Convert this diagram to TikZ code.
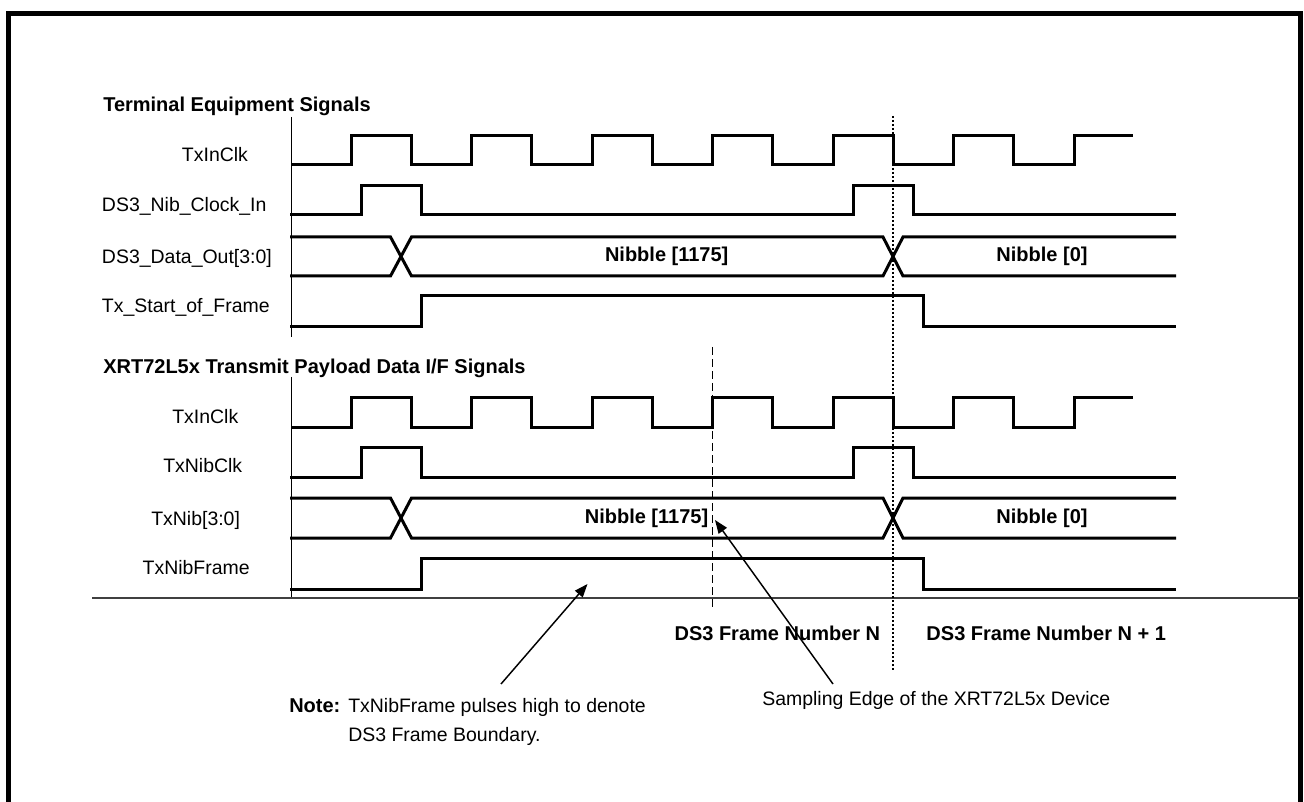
\documentclass[tikz,border=0pt]{standalone}
\usepackage{fontspec}
\setmainfont{Liberation Sans}
\usetikzlibrary{arrows.meta}
\begin{document}
\begin{tikzpicture}[x=0.75pt,y=-0.75pt,
  sig/.style={line width=2.25pt,line join=miter},
  axisline/.style={line width=1.1pt},
  lbl/.style={font=\fontsize{14.6}{17}\selectfont,anchor=base west,inner sep=0pt},
  hdg/.style={font=\fontsize{15}{18}\selectfont\bfseries,anchor=base west,inner sep=0pt},
  bold/.style={font=\fontsize{15}{18}\selectfont\bfseries,anchor=base,inner sep=0pt},
  note/.style={font=\fontsize{14.6}{17}\selectfont,anchor=base west,inner sep=0pt},
  pointer/.style={line width=1.1pt,-{Triangle[length=10pt,width=7.5pt]}}]
\useasboundingbox (0,0) rectangle (1304,802);
\clip (0,0) rectangle (1304,802);
% outer frame
\draw[line width=3.75pt] (8.5,13.5) rectangle (1300.5,840);

% headings
\node[hdg] (h1) at (103,112) {Terminal Equipment Signals};
\node[hdg] (h2) at (103,373.3) {XRT72L5x Transmit Payload Data I/F Signals};

% upper labels
\node[lbl] (l1) at (181.7,161.7) {TxInClk};
\node[lbl] (l2) at (101.7,211.7) {DS3\_Nib\_Clock\_In};
\node[lbl] (l3) at (101.7,263.3) {DS3\_Data\_Out[3:0]};
\node[lbl] (l4) at (101.7,312.7) {Tx\_Start\_of\_Frame};
% lower labels
\node[lbl] (m1) at (172,424) {TxInClk};
\node[lbl] (m2) at (163,473) {TxNibClk};
\node[lbl] (m3) at (151,525) {TxNib[3:0]};
\node[lbl] (m4) at (142.4,574) {TxNibFrame};

% axes
\draw[axisline] (291.7,117) -- (291.7,337);
\draw[axisline] (291.7,377) -- (291.7,598);
\draw[line width=1.1pt,black!75] (92,598) -- (1300,598);

% upper waveforms
\draw[sig] (291,165) foreach \k in {0,...,5} { -- ({351+120.5*\k},165) -- ({351+120.5*\k},135.5) -- ({411+120.5*\k},135.5) -- ({411+120.5*\k},165) } -- (1074,165) -- (1074,135.5) -- (1133,135.5);
\draw[sig] (290,215) -- (361,215) -- (361,185.5) -- (421,185.5) -- (421,215) -- (853,215) -- (853,185.5) -- (913,185.5) -- (913,215) -- (1176,215);
\draw[sig] (290,237) -- (390.5,237) -- (411.5,276) -- (883,276) -- (903,237) -- (1176,237);
\draw[sig] (290,276) -- (390.5,276) -- (411.5,237) -- (883,237) -- (903,276) -- (1176,276);
\draw[sig] (290,327) -- (421,327) -- (421,296) -- (923,296) -- (923,327) -- (1176,327);
\node[bold] (n1) at (666.7,261.7) {Nibble [1175]};
\node[bold] (n2) at (1042,261.7) {Nibble [0]};

% lower waveforms
\draw[sig] (291,427.5) foreach \k in {0,...,5} { -- ({351+120.5*\k},427.5) -- ({351+120.5*\k},397.5) -- ({411+120.5*\k},397.5) -- ({411+120.5*\k},427.5) } -- (1074,427.5) -- (1074,397.5) -- (1133,397.5);
\draw[sig] (290,477.7) -- (361,477.7) -- (361,447.7) -- (421,447.7) -- (421,477.7) -- (853,477.7) -- (853,447.7) -- (913,447.7) -- (913,477.7) -- (1176,477.7);
\draw[sig] (290,498) -- (390.5,498) -- (411.5,538) -- (883,538) -- (903,498) -- (1176,498);
\draw[sig] (290,538) -- (390.5,538) -- (411.5,498) -- (883,498) -- (903,538) -- (1176,538);
\draw[sig] (290,589) -- (421,589) -- (421,558) -- (923,558) -- (923,589) -- (1176,589);
\node[bold] (n3) at (646.5,523.7) {Nibble [1175]};
\node[bold] (n4) at (1042,523.7) {Nibble [0]};

% reference lines
\draw[line width=1.1pt,dash pattern=on 1.5pt off 1.5pt] (893,116) -- (893,670);
\draw[line width=0.75pt,dash pattern=on 6pt off 3pt] (712,347) -- (712,607);

% frame number labels
\node[bold,anchor=base west] (f1) at (674.3,640) {DS3 Frame Number N};
\node[bold,anchor=base west] (f2) at (926.2,640) {DS3 Frame Number N + 1};

% notes
\node[hdg] (nt) at (289,712) {Note:};
\node[note] (t1) at (348,712) {TxNibFrame pulses high to denote};
\node[note] (t2) at (348,741) {DS3 Frame Boundary.};
\node[note] (t3) at (762,705) {Sampling Edge of the XRT72L5x Device};

\coordinate (a1) at (501,684);
\coordinate (b1) at (587.5,584);
\coordinate (a2) at (833,684);
\coordinate (b2) at (715,520);
\draw[pointer] (a1) -- (b1);
\draw[pointer] (a2) -- (b2);
\end{tikzpicture}
\end{document}
